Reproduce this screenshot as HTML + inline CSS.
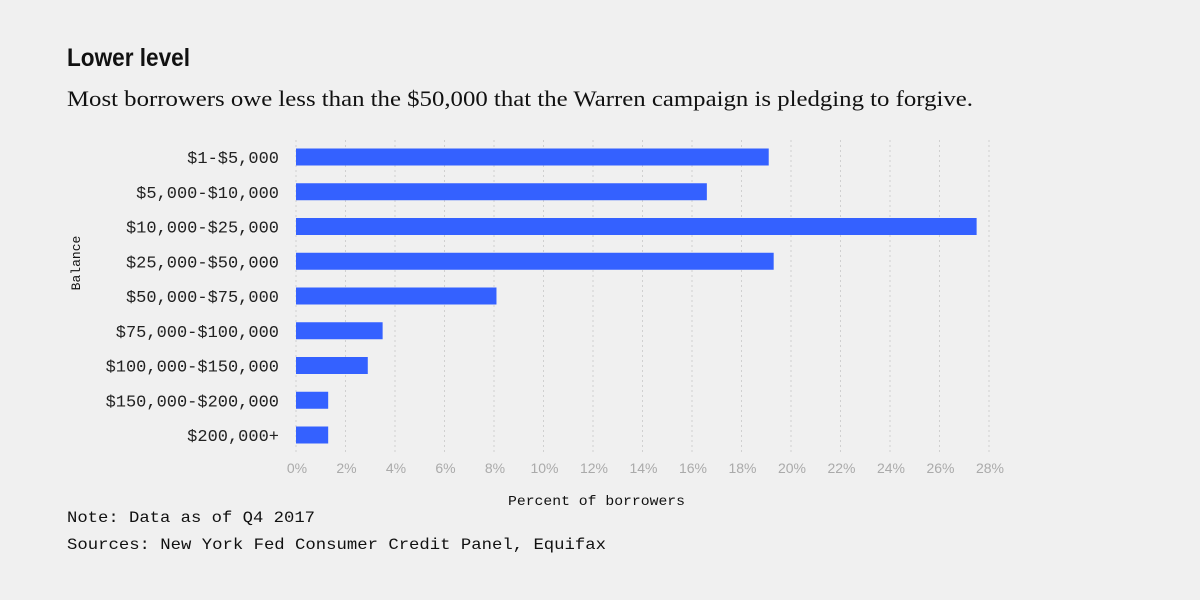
<!DOCTYPE html>
<html><head><meta charset="utf-8"><style>
body{margin:0;background:#f0f0f0;}
svg{display:block;font-family:"Liberation Sans",sans-serif;}
</style></head><body>
<svg id="c" width="1200" height="600">
<rect width="1200" height="600" fill="#f0f0f0"/>
<text x="67" y="66" font-size="25" font-weight="bold" fill="#111" textLength="123" lengthAdjust="spacingAndGlyphs">Lower level</text>
<text x="67" y="106" font-family="Liberation Serif,serif" font-size="22" fill="#111" textLength="906" lengthAdjust="spacingAndGlyphs">Most borrowers owe less than the $50,000 that the Warren campaign is pledging to forgive.</text>
<g id="grid"></g><g id="bars"></g><g id="ylabels"></g><g id="xlabels"></g>
<text x="80" y="263" font-family="Liberation Mono,monospace" font-size="13" fill="#111" transform="rotate(-90 80 263)" text-anchor="middle">Balance</text>
<text x="508" y="505" font-family="Liberation Mono,monospace" font-size="14" fill="#111" textLength="177" lengthAdjust="spacingAndGlyphs">Percent of borrowers</text>
<text x="67" y="522" font-family="Liberation Mono,monospace" font-size="16" fill="#111" textLength="248" lengthAdjust="spacingAndGlyphs">Note: Data as of Q4 2017</text>
<text x="67" y="549" font-family="Liberation Mono,monospace" font-size="16" fill="#111" textLength="539" lengthAdjust="spacingAndGlyphs">Sources: New York Fed Consumer Credit Panel, Equifax</text>
</svg>
<script>
const categories=["$1-$5,000","$5,000-$10,000","$10,000-$25,000","$25,000-$50,000","$50,000-$75,000","$75,000-$100,000","$100,000-$150,000","$150,000-$200,000","$200,000+"];
const values=[19.1,16.6,27.5,19.3,8.1,3.5,2.9,1.3,1.3];
const ticks=[0,2,4,6,8,10,12,14,16,18,20,22,24,26,28];
const NS="http://www.w3.org/2000/svg";
const x=v=>296+v*24.75;
const y=i=>157+i*34.75;
function mk(tag,attrs,parent,txt){const e=document.createElementNS(NS,tag);for(const k in attrs)e.setAttribute(k,attrs[k]);if(txt!==undefined)e.textContent=txt;document.getElementById(parent).appendChild(e);return e;}
ticks.forEach(t=>{
 const l=mk('line',{x1:x(t),x2:x(t),y1:140,y2:452,stroke:'#d0d0d0','stroke-dasharray':'2,3'},'grid');
 
 
 const tx=mk('text',{x:x(t)+1,y:473,'font-size':14,fill:'#aaa','text-anchor':'middle','font-family':'Liberation Sans,sans-serif'},'xlabels',t+'%');
 
 
});
categories.forEach((c,i)=>{
 const r=mk('rect',{x:x(0),y:y(i)-8.5,width:x(values[i])-x(0),height:17,fill:'#3461ff'},'bars');
 
 
 const t=mk('text',{x:279,y:y(i)+6,'font-size':17,fill:'#222','text-anchor':'end','font-family':'Liberation Mono,monospace'},'ylabels',c);
 
 
});
</script>
</body></html>
